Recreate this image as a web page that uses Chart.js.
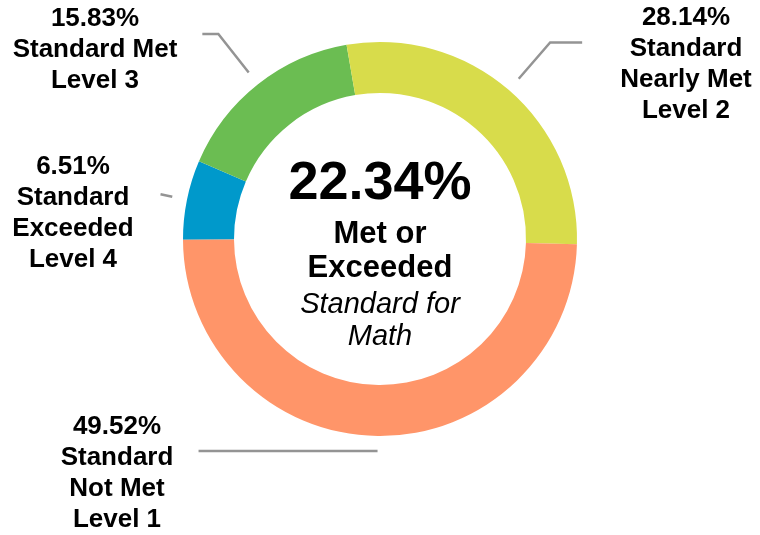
<!DOCTYPE html>
<html>
<head>
<meta charset="utf-8">
<script src="https://cdn.jsdelivr.net/npm/chart.js@4/dist/chart.umd.min.js"></script>
<style>
    html, body { margin: 0; padding: 0; background: #fff; }
    #wrap { width: 760px; height: 535px; position: relative; }
</style>
</head>
<body>
<div id="wrap"><canvas id="donut"></canvas></div>
<script>
// slices listed clockwise, starting from the blue one on the left
const categories = [
    ['Standard', 'Exceeded', 'Level 4'],
    ['Standard Met', 'Level 3'],
    ['Standard', 'Nearly Met', 'Level 2'],
    ['Standard', 'Not Met', 'Level 1']
];
const percents = [6.51, 15.83, 28.14, 49.52];
const sliceColors = ['#0099cb', '#6bbd52', '#d8dc4b', '#ff9569'];
const centerTitle = ['Met or', 'Exceeded'];
const centerSubtitle = ['Standard for', 'Math'];

const FONT = '"Liberation Sans", Arial, Helvetica, sans-serif';

// leader line + label placement per slice (same order as above)
const callouts = [
    { ext: 12, run: 0,    lx: 73,  ly: 167 },
    { ext: 49, run: -16,  lx: 95,  ly: 19 },
    { ext: 48, run: 32,   lx: 686, ly: 18 },
    { ext: 0,  run: -179, lx: 117, ly: 427 }
];

const calloutPlugin = {
    id: 'callouts',
    afterDraw(chart) {
        const ctx = chart.ctx;
        const arcs = chart.getDatasetMeta(0).data;
        ctx.save();

        arcs.forEach((arc, i) => {
            const c = callouts[i];
            const mid = (arc.startAngle + arc.endAngle) / 2;
            const r0 = arc.outerRadius + 15;
            const r1 = r0 + c.ext;
            const x0 = arc.x + Math.cos(mid) * r0;
            const y0 = arc.y + Math.sin(mid) * r0;
            const x1 = arc.x + Math.cos(mid) * r1;
            const y1 = arc.y + Math.sin(mid) * r1;

            ctx.strokeStyle = '#949494';
            ctx.lineWidth = 2.5;
            ctx.lineJoin = 'miter';
            ctx.beginPath();
            ctx.moveTo(x0, y0);
            ctx.lineTo(x1, y1);
            ctx.lineTo(x1 + c.run, y1);
            ctx.stroke();

            // label text
            const lines = [percents[i].toFixed(2) + '%'].concat(categories[i]);
            ctx.fillStyle = '#000';
            ctx.font = 'bold 26px ' + FONT;
            ctx.textAlign = 'center';
            ctx.textBaseline = 'middle';
            lines.forEach((t, k) => ctx.fillText(t, c.lx, c.ly + k * 31));
        });

        // center text
        const cx = arcs[0].x;
        const cy = arcs[0].y;
        const metOrExceeded = percents[0] + percents[1];
        ctx.fillStyle = '#000';
        ctx.textAlign = 'center';
        ctx.textBaseline = 'middle';
        ctx.font = 'bold 54px ' + FONT;
        ctx.fillText(metOrExceeded.toFixed(2) + '%', cx, cy - 55);
        ctx.font = 'bold 31px ' + FONT;
        centerTitle.forEach((t, k) => ctx.fillText(t, cx, cy - 5 + k * 34));
        ctx.font = 'italic 29px ' + FONT;
        centerSubtitle.forEach((t, k) => ctx.fillText(t, cx, cy + 66 + k * 32));

        ctx.restore();
    }
};

new Chart(document.getElementById('donut'), {
    type: 'doughnut',
    data: {
        labels: categories,
        datasets: [{
            data: percents,
            backgroundColor: sliceColors,
            borderWidth: 0,
            radius: 197,
            cutout: 146
        }]
    },
    options: {
        responsive: true,
        maintainAspectRatio: false,
        animation: false,
        rotation: 269.8,
        layout: { padding: { top: 42, bottom: 99, left: 0, right: 0 } },
        plugins: {
            legend: { display: false },
            tooltip: { enabled: false }
        }
    },
    plugins: [calloutPlugin]
});
</script>
</body>
</html>
